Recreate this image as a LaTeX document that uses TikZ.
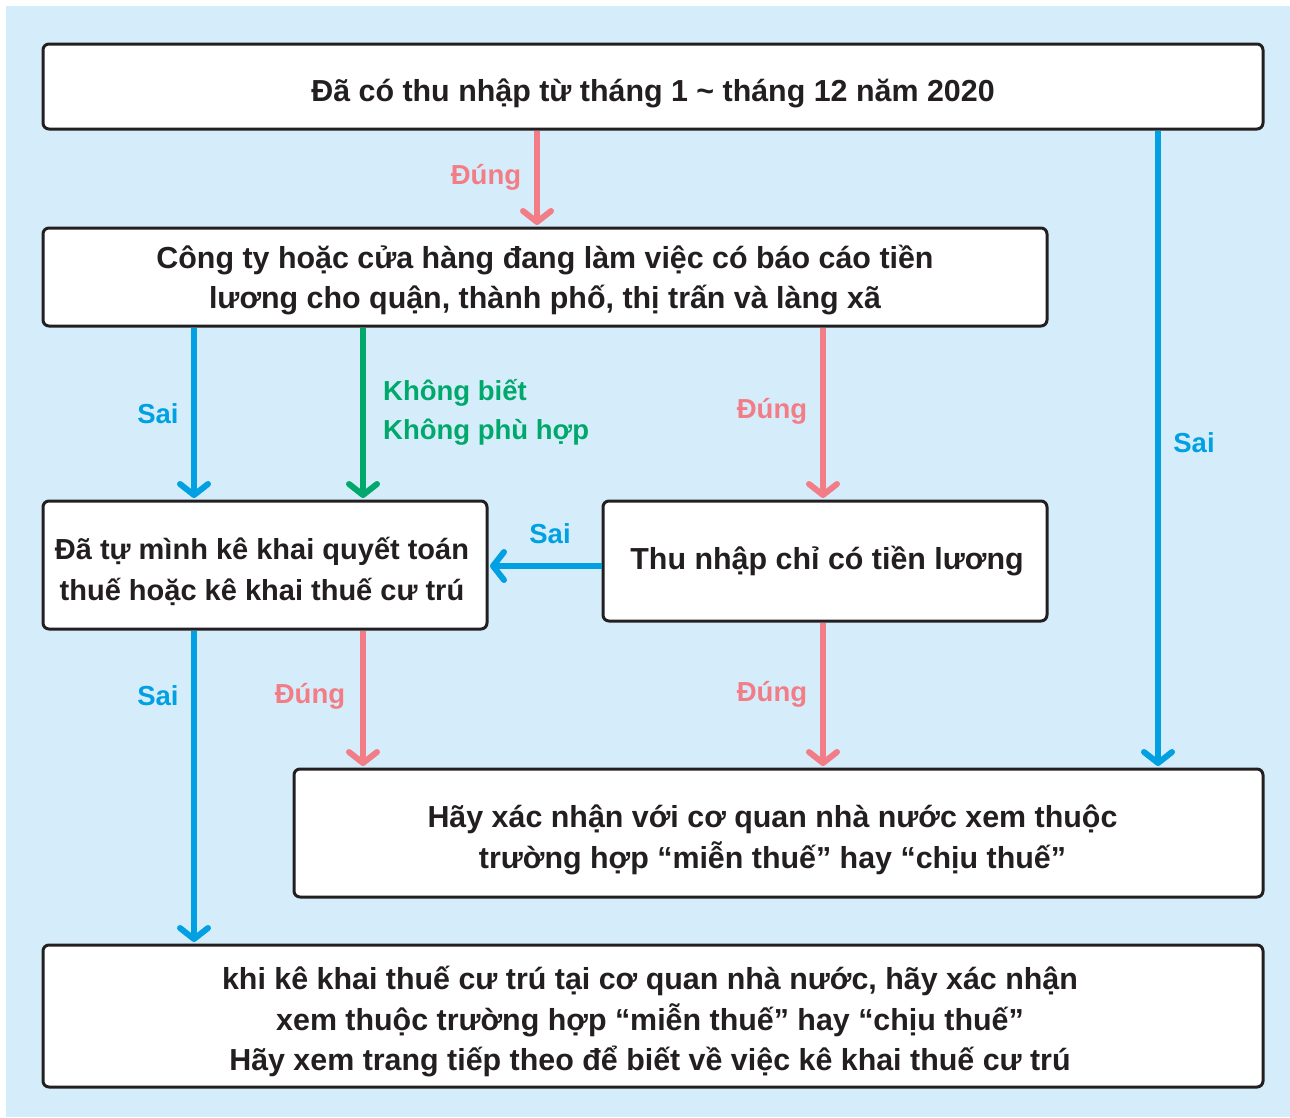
\documentclass[tikz,border=0pt]{standalone}
\usepackage{fontspec}
\setmainfont{Liberation Sans}
\usetikzlibrary{arrows.meta,calc}
\definecolor{bg}{HTML}{D5EDFA}
\definecolor{pk}{HTML}{F27D86}
\definecolor{bl}{HTML}{00A0E3}
\definecolor{gr}{HTML}{00A86B}
\definecolor{ink}{HTML}{231F20}
\begin{document}
\begin{tikzpicture}[x=1pt,y=-1pt,
 box/.style={draw=ink, line width=3pt, rounded corners=6pt, fill=white, inner sep=0pt, outer sep=0pt},
 txt/.style={inner sep=0pt, align=center, font=\fontsize{30.4}{40.5}\selectfont\bfseries, text=ink},
 arr/.style={line width=6pt, -{Straight Barb[length=11pt,width=28pt,round]}, shorten >=3pt, shorten <=1.5pt},
 lab/.style={font=\fontsize{27.5}{39}\selectfont\bfseries, inner sep=0pt}
]
\useasboundingbox (0,0) rectangle (1290,1117);
\fill[white] (0,0) rectangle (1290,1117);
\fill[bg] (6,6) rectangle (1290,1117);

\node[box, minimum width=1220pt, minimum height=85pt] (b1) at (653,86.5) {};
\node[box, minimum width=1004pt, minimum height=98pt] (b2) at (545,277) {};
\node[box, minimum width=444pt, minimum height=128pt] (b3) at (265,565) {};
\node[box, minimum width=444pt, minimum height=120pt] (b4) at (825,561) {};
\node[box, minimum width=969pt, minimum height=128pt] (b5) at (778.5,833) {};
\node[box, minimum width=1220pt, minimum height=142pt] (b6) at (653,1016) {};

\node[txt] (t1) at ([yshift=-7pt]b1.center) {Đã có thu nhập từ tháng 1 \textasciitilde{} tháng 12 năm 2020};
\node[txt] (t2) at ([yshift=-3pt]b2.center) {Công ty hoặc cửa hàng đang làm việc có báo cáo tiền\\lương cho quận, thành phố, thị trấn và làng xã};
\node[txt, font=\fontsize{29}{40.5}\selectfont\bfseries] (t3) at ([yshift=-6.5pt,xshift=-3pt]b3.center) {Đã tự mình kê khai quyết toán\\thuế hoặc kê khai thuế cư trú};
\node[txt] (t4) at ([xshift=2pt]b4.center) {Thu nhập chỉ có tiền lương};
\node[txt] (t5) at ([yshift=-7pt,xshift=-6pt]b5.center) {Hãy xác nhận với cơ quan nhà nước xem thuộc\\trường hợp “miễn thuế” hay “chịu thuế”};
\node[txt] (t6) at ([yshift=-6pt,xshift=-3pt]b6.center) {khi kê khai thuế cư trú tại cơ quan nhà nước, hãy xác nhận\\xem thuộc trường hợp “miễn thuế” hay “chịu thuế”\\Hãy xem trang tiếp theo để biết về việc kê khai thuế cư trú};

\coordinate (cA) at (537,0);
\coordinate (cB) at (1158,0);
\coordinate (cC) at (194,0);
\coordinate (cD) at (363,0);
\coordinate (cE) at (823,0);
\coordinate (rH) at (0,566);

\draw[arr,pk] (b1.south -| cA) -- (b2.north -| cA);
\draw[arr,bl] (b1.south -| cB) -- (b5.north -| cB);
\draw[arr,bl] (b2.south -| cC) -- (b3.north -| cC);
\draw[arr,gr] (b2.south -| cD) -- (b3.north -| cD);
\draw[arr,pk] (b2.south -| cE) -- (b4.north -| cE);
\draw[arr,bl] (b4.west |- rH) -- (b3.east |- rH);
\draw[arr,bl] (b3.south -| cC) -- (b6.north -| cC);
\draw[arr,pk] (b3.south -| cD) -- (b5.north -| cD);
\draw[arr,pk] (b4.south -| cE) -- (b5.north -| cE);

\node[lab,text=pk] (l1) at (486,177.5) {Đúng};
\node[lab,text=bl] (l2) at (1194,443) {Sai};
\node[lab,text=bl] (l3) at (158,414) {Sai};
\node[lab,text=gr,align=left,anchor=west] (l4) at (383,412.5) {Không biết\\Không phù hợp};
\node[lab,text=pk] (l5) at (772,411.5) {Đúng};
\node[lab,text=bl] (l6) at (550,534) {Sai};
\node[lab,text=bl] (l7) at (158,696) {Sai};
\node[lab,text=pk] (l8) at (310,696.5) {Đúng};
\node[lab,text=pk] (l9) at (772,694.5) {Đúng};
\end{tikzpicture}
\end{document}
